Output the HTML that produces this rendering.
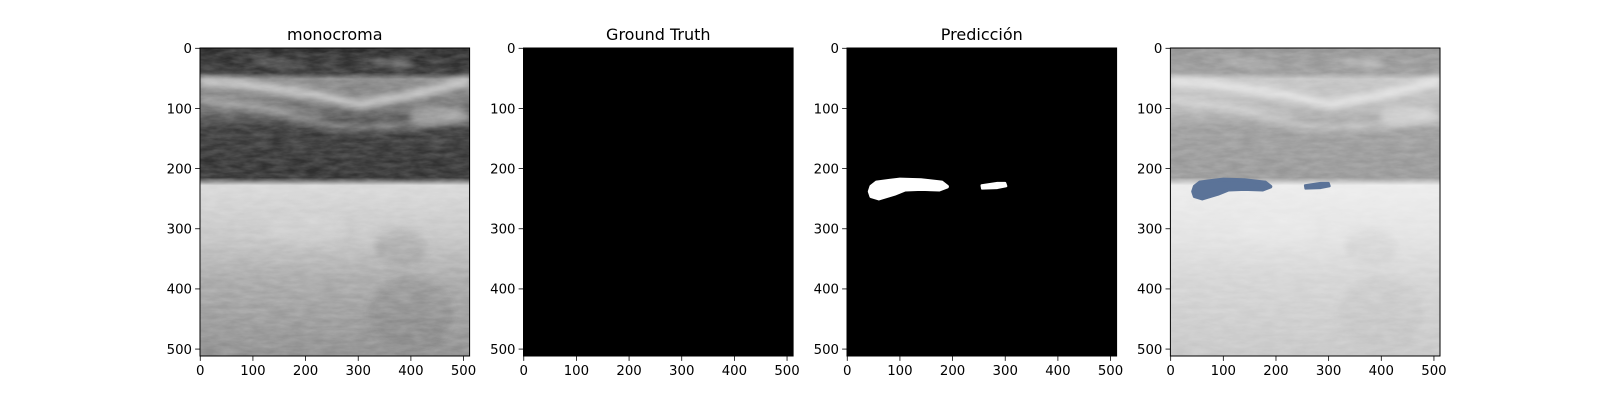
<!DOCTYPE html>
<html><head><meta charset="utf-8"><style>
html,body{margin:0;padding:0;background:#fff;width:1600px;height:400px;overflow:hidden}
svg text{font-family:"DejaVu Sans","Liberation Sans",sans-serif;fill:#000}
</style></head><body>
<svg id="fig" width="1600" height="400" xmlns="http://www.w3.org/2000/svg">
<defs>
<filter id="noise" x="0" y="0" width="1" height="1">
<feTurbulence type="fractalNoise" baseFrequency="0.03 0.12" numOctaves="3" seed="4" result="t"/>
<feColorMatrix in="t" type="matrix" values="0 0 0 0 1  0 0 0 0 1  0 0 0 0 1  0 0 0 0.5 -0.1"/>
</filter>
<filter id="blur2" x="-20%" y="-50%" width="140%" height="200%" filterUnits="objectBoundingBox"><feGaussianBlur stdDeviation="6"/></filter>
<linearGradient id="usg" x1="0" y1="0" x2="0" y2="1">
<stop offset="0" stop-color="#2a2a2a"/>
<stop offset="0.08" stop-color="#353535"/>
<stop offset="0.1" stop-color="#8a8a8a"/>
<stop offset="0.2" stop-color="#6a6a6a"/>
<stop offset="0.26" stop-color="#383838"/>
<stop offset="0.42" stop-color="#2e2e2e"/>
<stop offset="0.445" stop-color="#d8d8d8"/>
<stop offset="0.52" stop-color="#d0d0d0"/>
<stop offset="0.62" stop-color="#c4c4c4"/>
<stop offset="0.75" stop-color="#a8a8a8"/>
<stop offset="1" stop-color="#8c8c8c"/>
</linearGradient>
<g id="us">
<rect x="0" y="0" width="512" height="512" fill="url(#usg)"/>
<g filter="url(#blur2)" fill="#e0e0e0">
<path d="M0 48 Q150 55 300 85 Q420 70 512 45 L512 60 Q420 85 300 100 Q150 70 0 62Z" opacity="0.8"/>
<path d="M0 80 Q120 85 250 125 Q380 130 512 110 L512 122 Q380 140 250 135 Q120 100 0 92Z" opacity="0.5"/>
<path d="M330 20 L400 22 L400 28 L330 26Z" opacity="0.7"/>
<path d="M100 15 L200 30 L200 34 L100 20Z" opacity="0.5"/>
<ellipse cx="450" cy="110" rx="55" ry="14" opacity="0.45"/>
<ellipse cx="200" cy="300" rx="80" ry="25" opacity="0.25"/>
<ellipse cx="380" cy="330" rx="50" ry="30" fill="#777" opacity="0.25"/>
<ellipse cx="400" cy="440" rx="80" ry="60" fill="#666" opacity="0.2"/>
</g>
<rect x="0" y="0" width="512" height="512" filter="url(#noise)" opacity="0.55"/>
</g>
</defs>
</svg>
<script>
const ticks=[0,100,200,300,400,500];
const tickLabels=["0","100","200","300","400","500"];
const titles=["monocroma","Ground Truth","Predicción",""];
const extent=512;
const blobBig=[[45,230],[55,223],[80,220],[100,218],[140,219],[180,223],[190,230],[175,235],[140,234],[110,235],[90,242],[60,250],[45,246],[42,238]];
const blobSmall=[[255,228],[285,224],[300,224],[302,229],[285,232],[256,233]];
const NS="http://www.w3.org/2000/svg";
const fig=document.getElementById('fig');
const axL=[200,523.5,847,1170.4], axW=269.6, axT=48, axH=308;
function mk(t,a,p){const e=document.createElementNS(NS,t);for(const k in a)e.setAttribute(k,a[k]);(p||fig).appendChild(e);return e;}
function pathOf(pts){return 'M'+pts.map(p=>p[0]+' '+p[1]).join(' L')+'Z';}
axL.forEach((L,i)=>{
  const g=mk('g',{});
  
  
  const inner=mk('svg',{x:L,y:axT,width:axW,height:axH,viewBox:'-0.5 -0.5 512 512',preserveAspectRatio:'none'},g);
  if(i===0||i===3){mk('use',{href:'#us'},inner);}
  else mk('rect',{x:-0.5,y:-0.5,width:512,height:512,fill:'#000'},inner);
  if(i===3) mk('rect',{x:-0.5,y:-0.5,width:512,height:512,fill:'#fff',opacity:0.5},inner);
  if(i===2){
    const b1=mk('path',{d:pathOf(blobBig),fill:'#fff',stroke:'#fff','stroke-width':6,'stroke-linejoin':'round'},inner);
    
    const b2=mk('path',{d:pathOf(blobSmall),fill:'#fff',stroke:'#fff','stroke-width':4,'stroke-linejoin':'round'},inner);
    
  }
  if(i===3){
    const b1=mk('path',{d:pathOf(blobBig),fill:'#5b7398',stroke:'#5b7398','stroke-width':6,'stroke-linejoin':'round'},inner);
    
    const b2=mk('path',{d:pathOf(blobSmall),fill:'#5b7398',stroke:'#5b7398','stroke-width':4,'stroke-linejoin':'round'},inner);
    
  }
  const fr=mk('rect',{x:L,y:axT,width:axW,height:axH,fill:'none',stroke:'#000','stroke-width':1},g);
  
  const sx=v=>L+(v+0.5)/extent*axW, sy=v=>axT+(v+0.5)/extent*axH;
  ticks.forEach((v,j)=>{
    const x=sx(v),y=sy(v);
    mk('line',{x1:x,x2:x,y1:axT+axH,y2:axT+axH+4.9,stroke:'#000','stroke-width':0.8},g);
    const tx=mk('text',{x:x,y:axT+axH+19,'font-size':13.3,'text-anchor':'middle'},g);
    tx.textContent=tickLabels[j];
    
    mk('line',{x1:L-4.9,x2:L,y1:y,y2:y,stroke:'#000','stroke-width':0.8},g);
    const ty=mk('text',{x:L-8,y:y+4.8,'font-size':13.3,'text-anchor':'end'},g);
    ty.textContent=tickLabels[j];
    
  });
  if(titles[i]){
    const t=mk('text',{x:L+axW/2,y:axT-8,'font-size':16,'text-anchor':'middle'},g);
    t.textContent=titles[i];
    
  }
});
</script>
</body></html>
